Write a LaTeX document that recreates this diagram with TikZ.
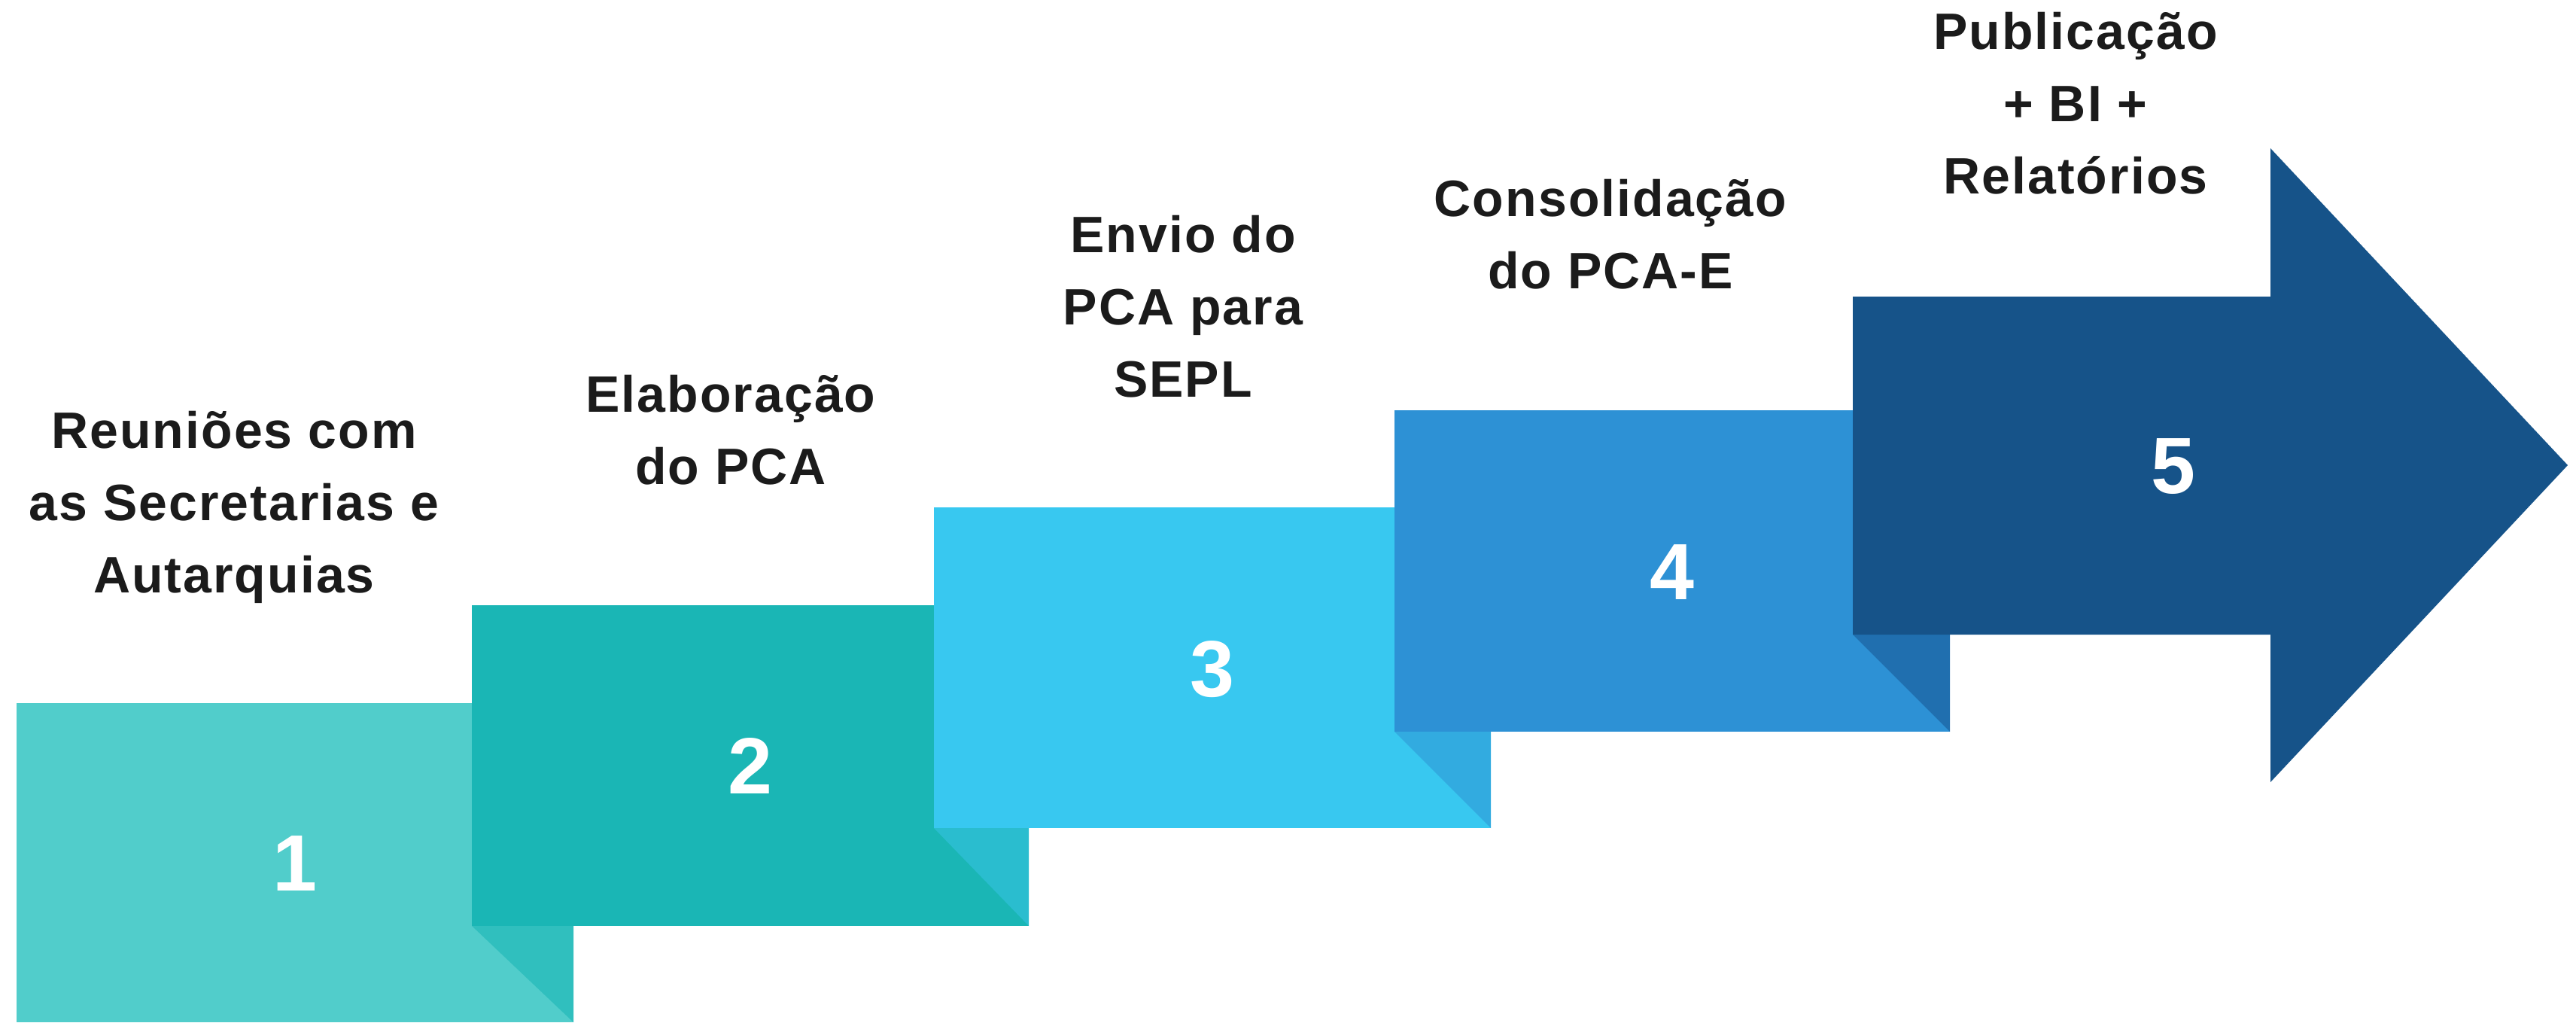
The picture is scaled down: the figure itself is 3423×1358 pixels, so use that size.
\documentclass[tikz,border=0pt]{standalone}
\usepackage{fontspec}
\setmainfont{Liberation Sans}
\newfontfamily\labfont[LetterSpace=3]{Liberation Sans}
\definecolor{cA}{HTML}{51CDCB}
\definecolor{fA}{HTML}{30BFBE}
\definecolor{cB}{HTML}{1AB6B5}
\definecolor{fB}{HTML}{2ABDCF}
\definecolor{cC}{HTML}{38C8F0}
\definecolor{fC}{HTML}{32ABE0}
\definecolor{cD}{HTML}{2D91D5}
\definecolor{fD}{HTML}{206FAF}
\definecolor{cE}{HTML}{165389}
\definecolor{ink}{HTML}{1B1B1B}
\tikzset{
  numlabel/.style={inner sep=0pt, text=white, font=\fontsize{106}{106}\selectfont\bfseries},
  steplabel/.style={inner sep=0pt, align=center, text=ink, font=\labfont\fontsize{68}{96}\selectfont\bfseries}
}
\begin{document}
\begin{tikzpicture}[x=1pt,y=-1pt]
\useasboundingbox (0,0) rectangle (3423,1358);
\fill[white] (0,0) rectangle (3423,1358);
% step 1
\fill[cA] (22,934) rectangle (762,1358);
\fill[fA] (627,1230) -- (762,1230) -- (762,1358) -- cycle;
% step 2
\fill[cB] (627,804) rectangle (1367,1230);
\fill[fB] (1241,1100) -- (1367,1100) -- (1367,1230) -- cycle;
% step 3
\fill[cC] (1241,674) rectangle (1981,1100);
\fill[fC] (1853,972) -- (1981,972) -- (1981,1100) -- cycle;
% step 4
\fill[cD] (1853,545) rectangle (2591,972);
\fill[fD] (2462,843) -- (2591,843) -- (2591,972) -- cycle;
% step 5 arrow
\fill[cE] (2462,394) -- (3017,394) -- (3017,197) -- (3412,618) -- (3017,1039) -- (3017,843) -- (2462,843) -- cycle;
% numbers
\node[numlabel] (n1) at (392,1147) {1};
\node[numlabel] (n2) at (997,1017) {2};
\node[numlabel] (n3) at (1611,889) {3};
\node[numlabel] (n4) at (2222,760) {4};
\node[numlabel] (n5) at (2888,620) {5};
% labels (anchor base = baseline of last line)
\node[steplabel, anchor=base] (l1) at (311,787) {Reuniões com\\as Secretarias e\\Autarquias};
\node[steplabel, anchor=base] (l2) at (971,643) {Elaboração\\do PCA};
\node[steplabel, anchor=base] (l3) at (1572,527) {Envio do\\PCA para\\SEPL};
\node[steplabel, anchor=base] (l4) at (2140,383) {Consolidação\\do PCA-E};
\node[steplabel, anchor=base] (l5) at (2758,257) {Publicação\\+ BI +\\Relatórios};
\end{tikzpicture}
\end{document}
